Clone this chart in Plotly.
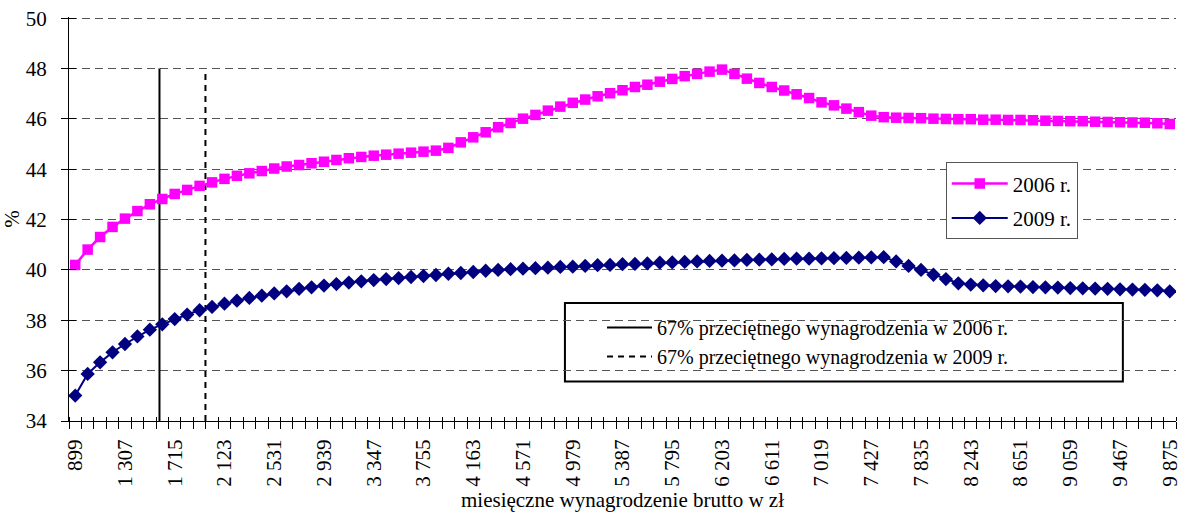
import plotly.graph_objects as go

# --- data -------------------------------------------------------------
wages = [899, 1001, 1103, 1205, 1307, 1409, 1511, 1613, 1715, 1817, 1919, 2021,
         2123, 2225, 2327, 2429, 2531, 2633, 2735, 2837, 2939, 3041, 3143, 3245,
         3347, 3449, 3551, 3653, 3755, 3857, 3959, 4061, 4163, 4265, 4367, 4469,
         4571, 4673, 4775, 4877, 4979, 5081, 5183, 5285, 5387, 5489, 5591, 5693,
         5795, 5897, 5999, 6101, 6203, 6305, 6407, 6509, 6611, 6713, 6815, 6917,
         7019, 7121, 7223, 7325, 7427, 7529, 7631, 7733, 7835, 7937, 8039, 8141,
         8243, 8345, 8447, 8549, 8651, 8753, 8855, 8957, 9059, 9161, 9263, 9365,
         9467, 9569, 9671, 9773, 9875]

s2006 = [40.20, 40.81, 41.31, 41.71, 42.04, 42.34, 42.61, 42.82, 43.02, 43.18,
         43.34, 43.48, 43.62, 43.74, 43.84, 43.93, 44.03, 44.11, 44.17, 44.24,
         44.30, 44.37, 44.44, 44.49, 44.54, 44.58, 44.62, 44.66, 44.70, 44.74,
         44.85, 45.07, 45.27, 45.47, 45.67, 45.84, 46.01, 46.16, 46.33, 46.49,
         46.64, 46.77, 46.90, 47.02, 47.14, 47.27, 47.36, 47.48, 47.59, 47.70,
         47.79, 47.88, 47.96, 47.79, 47.60, 47.43, 47.27, 47.13, 46.98, 46.83,
         46.66, 46.54, 46.41, 46.27, 46.13, 46.07, 46.05, 46.04, 46.03, 46.01,
         46.00, 45.99, 45.99, 45.97, 45.97, 45.96, 45.96, 45.95, 45.93, 45.92,
         45.91, 45.91, 45.89, 45.88, 45.87, 45.86, 45.85, 45.83, 45.80]

s2009 = [35.01, 35.87, 36.33, 36.73, 37.06, 37.36, 37.63, 37.84, 38.05, 38.23,
         38.40, 38.53, 38.66, 38.78, 38.89, 38.98, 39.07, 39.15, 39.25, 39.31,
         39.38, 39.44, 39.50, 39.55, 39.60, 39.64, 39.68, 39.72, 39.76, 39.80,
         39.85, 39.88, 39.92, 39.97, 40.00, 40.03, 40.05, 40.07, 40.09, 40.12,
         40.13, 40.16, 40.19, 40.20, 40.23, 40.24, 40.26, 40.29, 40.30, 40.32,
         40.34, 40.36, 40.37, 40.38, 40.40, 40.41, 40.42, 40.44, 40.45, 40.45,
         40.46, 40.47, 40.48, 40.49, 40.50, 40.51, 40.34, 40.16, 40.00, 39.81,
         39.64, 39.47, 39.42, 39.39, 39.36, 39.35, 39.34, 39.32, 39.31, 39.30,
         39.28, 39.27, 39.26, 39.25, 39.23, 39.22, 39.21, 39.19, 39.15]

# 67% of average wage markers (position on wage axis, line top value)
thr2006_x = 1590
thr2006_top = 48.0
thr2009_x = 1967
thr2009_top = 47.8
y_min, y_max = 34, 50

tick_wages = wages[::4]
tick_text = ["{:,}".format(w).replace(",", " ") for w in tick_wages]

FONT = "Liberation Serif"
step = wages[1] - wages[0]
x_range = [wages[0] - step / 2, wages[-1] + step / 2]
y_range = [y_min, y_max + 0.05]  # tiny headroom so the top gridline is drawn

fig = go.Figure()

# vertical threshold lines (main axes, drawn below the series)
fig.add_trace(go.Scatter(
    x=[thr2006_x, thr2006_x], y=[y_min, thr2006_top], mode="lines",
    line=dict(color="black", width=2),
    name="67% przeciętnego wynagrodzenia w 2006 r.", legend="legend2",
    hoverinfo="skip"))
fig.add_trace(go.Scatter(
    x=[thr2009_x, thr2009_x], y=[y_min, thr2009_top], mode="lines",
    line=dict(color="black", width=2, dash="6px,5px"),
    name="67% przeciętnego wynagrodzenia w 2009 r.", legend="legend2",
    hoverinfo="skip"))

# data series (overlay axes)
fig.add_trace(go.Scatter(
    x=wages, y=s2006, name="2006 r.", mode="lines+markers",
    line=dict(color="#FF00FF", width=2.5),
    marker=dict(symbol="square", size=10.5, color="#FF00FF"),
    xaxis="x2", yaxis="y2", legend="legend", legendgroup="a"))
fig.add_trace(go.Scatter(
    x=wages, y=s2009, name="2009 r.", mode="lines+markers",
    line=dict(color="#000080", width=2),
    marker=dict(symbol="diamond", size=11, color="#000080"),
    xaxis="x2", yaxis="y2", legend="legend", legendgroup="b"))

axis_font = dict(family=FONT, size=21, color="black")

fig.update_layout(
    width=1181, height=523,
    margin=dict(l=69, r=5, t=17, b=102, autoexpand=False),
    paper_bgcolor="white", plot_bgcolor="white",
    font=axis_font,
    xaxis=dict(
        range=x_range, showgrid=False, zeroline=False,
        showline=True, linecolor="black", linewidth=1,
        tickmode="array", tickvals=tick_wages, ticktext=tick_text,
        tickangle=-90, ticks="", ticklen=0,
        minor=dict(tick0=x_range[0], dtick=step, ticks="outside",
                   ticklen=7, tickcolor="black", tickwidth=1, showgrid=False),
        ticklabelstandoff=9, ticklabeloverflow="allow",
        title=dict(text="miesięczne wynagrodzenie brutto w zł",
                   font=axis_font, standoff=6),
        automargin=False,
    ),
    yaxis=dict(
        range=y_range, dtick=2, tick0=y_min,
        showgrid=True, gridcolor="#555555", gridwidth=1, griddash="8px,5px",
        zeroline=False, showline=True, linecolor="black", linewidth=1,
        ticks="outside", ticklen=7, tickcolor="black", tickwidth=1,
        ticklabelstandoff=10, ticklabeloverflow="allow",
        title=dict(text="%", font=axis_font, standoff=5),
        automargin=False,
    ),
    xaxis2=dict(
        overlaying="x", matches="x", range=x_range, showgrid=False,
        zeroline=False, showline=False, showticklabels=False,
        tickmode="array", tickvals=tick_wages, ticks="",
        minor=dict(tick0=x_range[0], dtick=step, ticks="inside",
                   ticklen=4, tickcolor="black", tickwidth=1, showgrid=False),
    ),
    yaxis2=dict(
        overlaying="y", matches="y", range=y_range, dtick=2, tick0=y_min,
        showgrid=False, zeroline=False, showline=False,
        showticklabels=False, ticks="inside", ticklen=7,
        tickcolor="black", tickwidth=1,
    ),
    legend=dict(
        x=0.792, y=0.64, xanchor="left", yanchor="top",
        bgcolor="white", bordercolor="#555555", borderwidth=1,
        font=dict(family=FONT, size=21, color="black"),
        traceorder="grouped", tracegroupgap=4, itemwidth=56,
    ),
    legend2=dict(
        x=0.4815, y=0.2795, xanchor="left", yanchor="top",
        bgcolor="rgba(0,0,0,0)", borderwidth=0,
        font=dict(family=FONT, size=20, color="black"),
        itemwidth=45,
    ),
    shapes=[dict(type="rect", xref="paper", yref="paper",
                 x0=0.448, x1=0.952, y0=0.098, y1=0.292,
                 line=dict(color="black", width=2), fillcolor="white",
                 layer="between")],
    showlegend=True,
)

# remove the page's default 8px body margin so the figure fills the window
fig.write_html("out.html",
               config={"displayModeBar": False},
               post_script="document.body.style.margin='0';"
                           "document.body.style.overflow='hidden';")
